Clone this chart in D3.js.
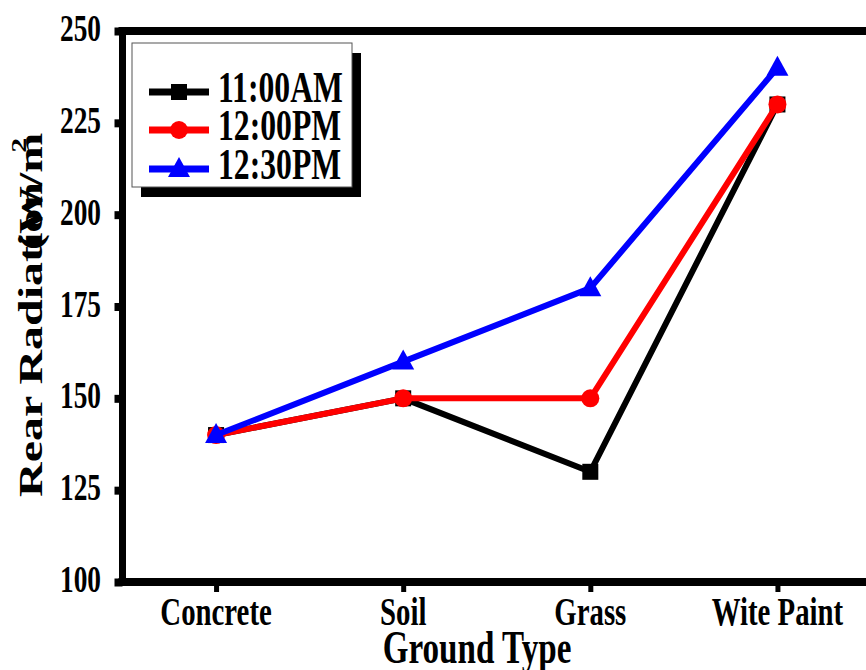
<!DOCTYPE html>
<html><head><meta charset="utf-8">
<script src="https://cdn.jsdelivr.net/npm/d3@7"></script>
<style>body{margin:0;background:#fff}svg{display:block}text{font-family:"Liberation Serif","Times New Roman",serif;font-weight:bold;fill:#000}</style>
</head><body><svg id="c" width="866" height="670"></svg>
<script>
const categories = ["Concrete", "Soil", "Grass", "Wite Paint"];
const seriesNames = ["11:00AM", "12:00PM", "12:30PM"];
const s1100 = [140, 150, 130, 230];
const s1200 = [140, 150, 150, 230];
const s1230 = [140, 160, 180, 240];
const yTicks = [100, 125, 150, 175, 200, 225, 250];
const colors = ["#000000", "#ff0000", "#0000ff"];
const shapes = ["square", "circle", "triangle"];
const seriesValues = [s1100, s1200, s1230];

(function () {
const SX = 0.72;
const svg = d3.select("#c");
const pL = 122.5, pR = 871, pT = 31, pB = 582;
const x = d3.scalePoint().domain(categories).range([pL, pR]).padding(0.5);
const y = d3.scaleLinear().domain([100, 250]).range([pB, pT]);

function marker(g, shape, cx, cy, color) {
  if (shape === "square") g.append("rect").attr("x", cx - 8).attr("y", cy - 8).attr("width", 16).attr("height", 16).attr("fill", color);
  else if (shape === "circle") g.append("circle").attr("cx", cx).attr("cy", cy).attr("r", 9).attr("fill", color);
  else g.append("path").attr("d", `M${cx},${cy-12}L${cx+11},${cy+8}L${cx-11},${cy+8}Z`).attr("fill", color);
}

const yAxis = d3.axisLeft(y).tickValues(yTicks).tickSize(8).tickFormat("");
const gy = svg.append("g").attr("transform", `translate(${pL},0)`).call(yAxis);
gy.select(".domain").remove();
gy.selectAll(".tick line").attr("stroke", "#000").attr("stroke-width", 8);
const xAxis = d3.axisBottom(x).tickSize(10).tickFormat("");
const gx = svg.append("g").attr("transform", `translate(0,${pB})`).call(xAxis);
gx.select(".domain").remove();
gx.selectAll(".tick line").attr("stroke", "#000").attr("stroke-width", 5);

svg.append("line").attr("x1", pL).attr("x2", pL).attr("y1", pT - 4).attr("y2", pB + 4).attr("stroke", "#000").attr("stroke-width", 7);
svg.append("line").attr("x1", pL - 4).attr("x2", 866).attr("y1", pB).attr("y2", pB).attr("stroke", "#000").attr("stroke-width", 8);
svg.append("line").attr("x1", pL - 4).attr("x2", 866).attr("y1", pT).attr("y2", pT).attr("stroke", "#000").attr("stroke-width", 8);

yTicks.forEach(v => {
  svg.append("text").attr("transform", `translate(101,${y(v) + 10}) scale(${SX},1)`)
    .attr("text-anchor", "end").attr("font-size", 38).text(v);
});
categories.forEach(c => {
  svg.append("text").attr("transform", `translate(${x(c)},625) scale(${SX},1)`)
    .attr("text-anchor", "middle").attr("font-size", 40).text(c);
});
svg.append("text").attr("transform", `translate(477,663) scale(${SX},1)`)
  .attr("text-anchor", "middle").attr("font-size", 46).text("Ground Type");
svg.append("text").attr("transform", `translate(42,497) scale(${SX},1) rotate(-90)`)
  .attr("text-anchor", "start").attr("font-size", 48).text("Rear Radiation");
const yt2 = svg.append("text").attr("transform", `translate(42,250) scale(${SX},1) rotate(-90)`)
  .attr("text-anchor", "start").attr("font-size", 48);
yt2.append("tspan").text("(W/m");
yt2.append("tspan").attr("font-size", 30).attr("dx", -20).attr("dy", -22).text("2");

const line = d3.line().x(d => x(d.c)).y(d => y(d.v));
seriesValues.forEach((vals, i) => {
  const data = categories.map((c, j) => ({c, v: vals[j]}));
  const g = svg.append("g");
  g.append("path").datum(data).attr("d", line).attr("fill", "none").attr("stroke", colors[i]).attr("stroke-width", 6).attr("stroke-linejoin", "round");
  data.forEach(d => marker(g, shapes[i], x(d.c), y(d.v), colors[i]));
});

svg.append("rect").attr("x", 141).attr("y", 53).attr("width", 220).attr("height", 144).attr("fill", "#000");
svg.append("rect").attr("x", 132).attr("y", 43).attr("width", 220).attr("height", 144).attr("fill", "#fff").attr("stroke", "#555").attr("stroke-width", 1);
const legY = [92, 130, 169];
seriesNames.forEach((n, i) => {
  const g = svg.append("g");
  g.append("line").attr("x1", 149).attr("x2", 209).attr("y1", legY[i]).attr("y2", legY[i]).attr("stroke", colors[i]).attr("stroke-width", 7);
  marker(g, shapes[i], 179, legY[i], colors[i]);
  svg.append("text").attr("transform", `translate(218,${legY[i] + 10}) scale(${SX},1)`)
    .attr("font-size", 44).text(n);
});
})();
</script></body></html>
